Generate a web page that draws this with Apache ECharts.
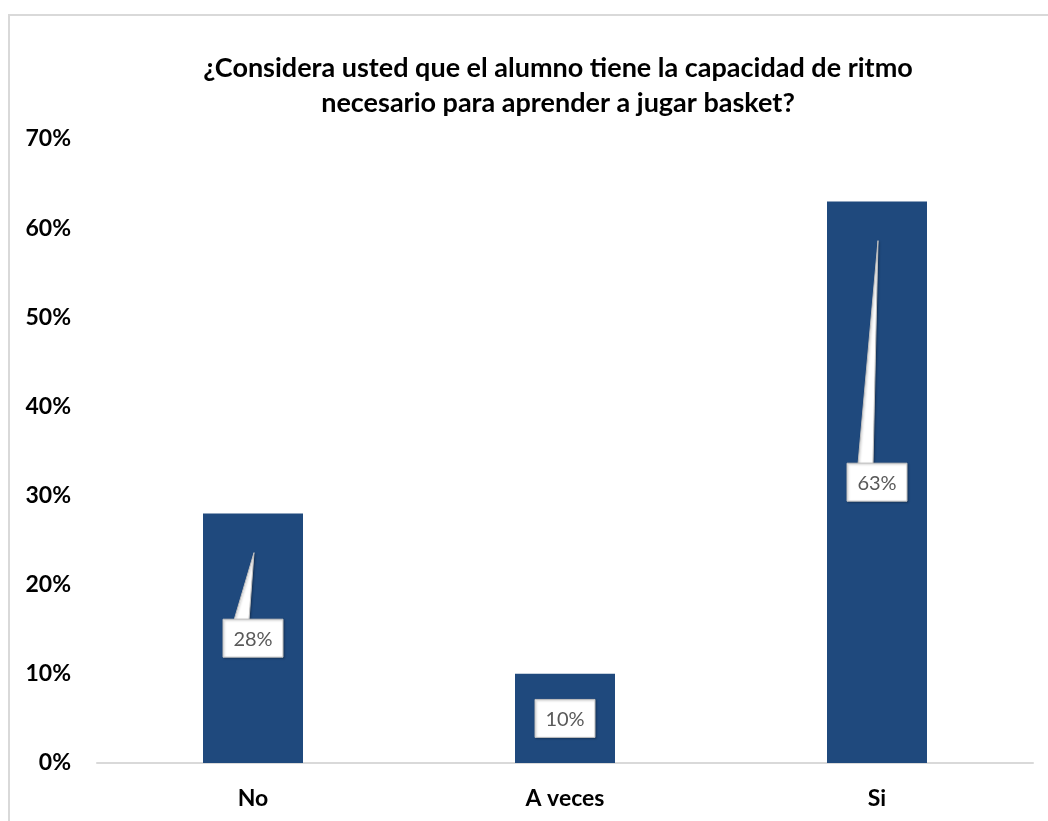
<!DOCTYPE html>
<html>
<head>
<meta charset="utf-8">
<script src="https://cdn.jsdelivr.net/npm/echarts@6/dist/echarts.min.js"></script>
<style>
  html, body { margin: 0; padding: 0; background: #fff; overflow: hidden; }
  #frame { position: absolute; left: 8px; top: 14px; width: 1100px; height: 900px;
           border-left: 2px solid #d9d9d9; border-top: 2px solid #d9d9d9; }
  #chart { position: absolute; left: 0; top: 0; width: 1048px; height: 821px; }
</style>
</head>
<body>
<div id="frame"></div>
<div id="chart"></div>
<script>
// Survey answers and their share of responses (percent)
const categories = ['No', 'A veces', 'Si'];
const shares = [28, 10, 63];
const yTicks = [0, 10, 20, 30, 40, 50, 60, 70];

const FONT = 'Lato, "Open Sans", sans-serif';
const chart = echarts.init(document.getElementById('chart'));

// Callout: white box at mid-bar with a tapered pointer towards the bar top
function renderCallout(params, api) {
  const idx = api.value(0);
  const v = api.value(1);
  const center = api.coord([idx, v / 2]);
  const tip = api.coord([idx, v - 4.4]);
  const boxW = 60, boxH = 38;
  const boxTop = center[1] - boxH / 2;
  const children = [];
  if (tip[1] < boxTop) {
    children.push({
      type: 'polygon',
      shape: { points: [[tip[0] + 1, tip[1]], [center[0] - 19, boxTop + 1], [center[0] - 4, boxTop + 1]] },
      style: { fill: '#ffffff', stroke: '#bfbfbf', lineWidth: 1,
               shadowBlur: 2, shadowColor: 'rgba(0,0,0,0.25)', shadowOffsetX: 1, shadowOffsetY: 1 }
    });
  }
  children.push({
    type: 'rect',
    shape: { x: center[0] - boxW / 2, y: boxTop, width: boxW, height: boxH },
    style: { fill: '#ffffff', stroke: '#bfbfbf', lineWidth: 1,
             shadowBlur: 2, shadowColor: 'rgba(0,0,0,0.25)', shadowOffsetX: 1, shadowOffsetY: 1 }
  });
  children.push({
    type: 'text',
    style: { text: Math.round(v) + '%', x: center[0], y: center[1] + 1,
             align: 'center', verticalAlign: 'middle',
             font: '20px ' + FONT, fill: '#595959' }
  });
  return { type: 'group', children: children };
}

chart.setOption({
  animation: false,
  backgroundColor: 'transparent',
  title: {
    text: '¿Considera usted que el alumno tiene la capacidad de ritmo\nnecesario para aprender a jugar basket?',
    left: 553, top: 46, textAlign: 'center',
    textStyle: { fontFamily: FONT, fontWeight: 'bold', fontSize: 27, color: '#000', lineHeight: 35 }
  },
  grid: { left: 97, right: 15, top: 139, bottom: 58, containLabel: false },
  xAxis: {
    type: 'category',
    data: categories,
    axisLine: { show: true, lineStyle: { color: '#d9d9d9', width: 2 } },
    axisTick: { show: false },
    axisLabel: { margin: 24, fontFamily: FONT, fontWeight: 'bold', fontSize: 23, color: '#000' }
  },
  yAxis: {
    type: 'value',
    min: yTicks[0], max: yTicks[yTicks.length - 1], interval: 10,
    axisLine: { show: false },
    axisTick: { show: false },
    splitLine: { show: false },
    axisLabel: { margin: 26, fontFamily: FONT, fontWeight: 'bold', fontSize: 23, color: '#000',
                 formatter: v => v + '%' }
  },
  series: [
    {
      type: 'bar',
      data: shares,
      barWidth: 100,
      itemStyle: { color: '#1f497d' },
      z: 2
    },
    {
      type: 'custom',
      data: shares.map((v, i) => [i, v]),
      renderItem: renderCallout,
      z: 3
    }
  ]
});
</script>
</body>
</html>
